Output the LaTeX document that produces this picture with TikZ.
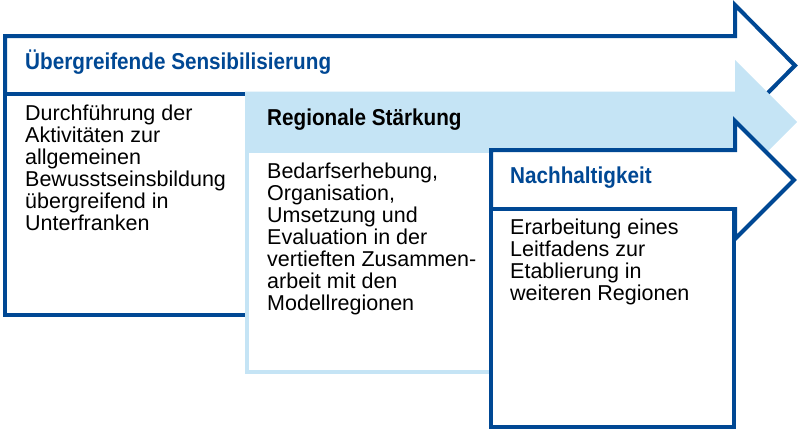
\documentclass[tikz,border=0pt]{standalone}
\usepackage{fontspec}
\setmainfont{Liberation Sans}
\newfontfamily\headfont{Liberation Sans}[FakeStretch=0.9]
\definecolor{ufblue}{RGB}{0,72,148}
\definecolor{uflight}{RGB}{197,228,245}

\begin{document}
\begin{tikzpicture}[x=1pt, y=-1pt,
    outline/.style={draw=ufblue, line width=4pt, fill=white, line join=miter},
    band/.style={fill=uflight, draw=none},
    lightbox/.style={draw=uflight, line width=4pt, fill=white},
    headtext/.style={anchor=base west, inner sep=0pt,
        font=\headfont\bfseries\fontsize{23}{26}\selectfont},
    bodytext/.style={anchor=base west, inner sep=0pt, align=left,
        font=\fontsize{21.5}{22}\selectfont}
]
\useasboundingbox (0,0) rectangle (800,432);

% first arrow
\draw[outline] (5,36) -- (735,36) -- (735,5) -- (795,65.5) -- (735,126) -- (735,94) -- (5,94) -- cycle;
\draw[outline] (5,94) rectangle (247,315);
\node[headtext, text=ufblue] (sensib) at (25,69) {Übergreifende Sensibilisierung};
% multi-line text sits on its last baseline
\node[bodytext] (sensib-text) at (25,230) {Durchführung der\\Aktivitäten zur\\allgemeinen\\Bewusstseinsbildung\\übergreifend in\\Unterfranken};

% second arrow
\fill[band] (245,91.5) -- (735,91.5) -- (735,60) -- (797,122) -- (735,184) -- (735,153) -- (245,153) -- cycle;
\draw[lightbox] (247,151) rectangle (491,372);
\node[headtext] (region) at (267,125) {Regionale Stärkung};
\node[bodytext] (region-text) at (267,310) {Bedarfserhebung,\\Organisation,\\Umsetzung und\\Evaluation in der\\vertieften Zusammen-\\arbeit mit den\\Modellregionen};

% third arrow
\draw[outline] (491,150) -- (735,150) -- (735,121) -- (794,180) -- (735,239) -- (735,209) -- (491,209) -- cycle;
\draw[outline] (491,209) rectangle (734,427);
\node[headtext, text=ufblue] (nachhalt) at (510,183) {Nachhaltigkeit};
\node[bodytext] (nachhalt-text) at (510,300) {Erarbeitung eines\\Leitfadens zur\\Etablierung in\\weiteren Regionen};

\end{tikzpicture}
\end{document}
